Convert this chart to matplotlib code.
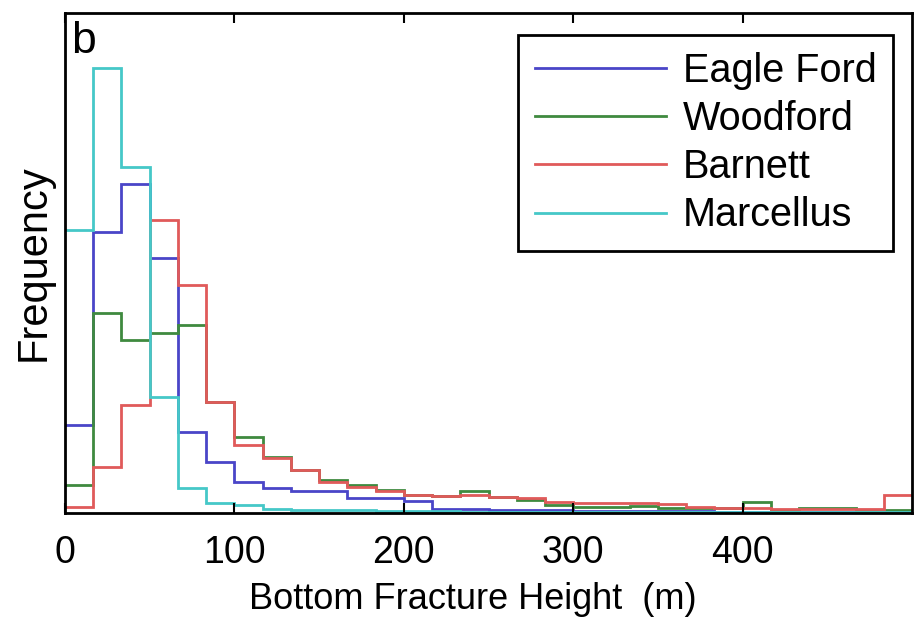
import numpy as np
import matplotlib
matplotlib.use("Agg")
import matplotlib.pyplot as plt

plt.rcParams['font.family'] = ['Liberation Sans', 'DejaVu Sans']

# 30 bins between 0 and 500 m
bin_edges = np.linspace(0, 500, 31)

series_names = ["Eagle Ford", "Woodford", "Barnett", "Marcellus"]

eagle_ford = [88, 281, 329, 255, 81, 51, 31, 25, 22, 22, 15, 15, 12, 4, 4,
              3, 3, 3, 2, 2, 2, 2, 2, 1, 1, 1, 1, 1, 1, 1]
woodford = [28, 200, 173, 180, 188, 111, 76, 56, 43, 33, 28, 23, 18, 17, 22,
            16, 13, 8, 6, 6, 7, 5, 5, 5, 11, 3, 5, 5, 3, 3]
barnett = [6, 46, 108, 293, 228, 111, 68, 55, 43, 31, 26, 22, 18, 17, 18,
           16, 15, 11, 10, 10, 10, 9, 6, 5, 5, 4, 4, 4, 4, 18]
marcellus = [283, 445, 346, 116, 25, 10, 8, 4, 3, 3, 3, 2, 2, 2, 1,
             1, 1, 1, 1, 1, 1, 1, 1, 1, 1, 1, 1, 1, 1, 1]

colors = ["#4a45c8", "#3f8a3f", "#e05a5a", "#45c8c8"]
xticks = [0, 100, 200, 300, 400]

fig = plt.figure(figsize=(9.14, 6.25), dpi=100)
ax = fig.add_axes([65/914, 1 - 513/625, 847/914, 500/625])

for name, vals, col in zip(series_names, [eagle_ford, woodford, barnett, marcellus], colors):
    ax.stairs(vals, bin_edges, color=col, linewidth=2.0, label=name, baseline=None)

ax.set_xlim(0, 500)
ax.set_ylim(0, 500)
ax.set_yticks([])
ax.set_xticks(xticks)
ax.tick_params(axis='x', direction='in', top=True, length=7, width=1.5,
               labelsize=27, pad=16)
for s in ax.spines.values():
    s.set_linewidth(2)

ax.set_xlabel("Bottom Fracture Height  (m)", fontsize=26, labelpad=8, x=0.482)
ax.set_ylabel("Frequency", fontsize=30, labelpad=8)

ax.text(0.007, 0.92, "b", transform=ax.transAxes, fontsize=32,
        ha='left', va='baseline')

leg = ax.legend(loc='upper right', bbox_to_anchor=((893-65)/847, 1-(35-13)/500),
                borderaxespad=0, fontsize=28.5, handlelength=3.3,
                handletextpad=0.43, labelspacing=0.26, fancybox=False,
                framealpha=1, borderpad=0.42)
leg.get_frame().set_edgecolor('black')
leg.get_frame().set_linewidth(2)

fig.savefig("out.png", dpi=100)
